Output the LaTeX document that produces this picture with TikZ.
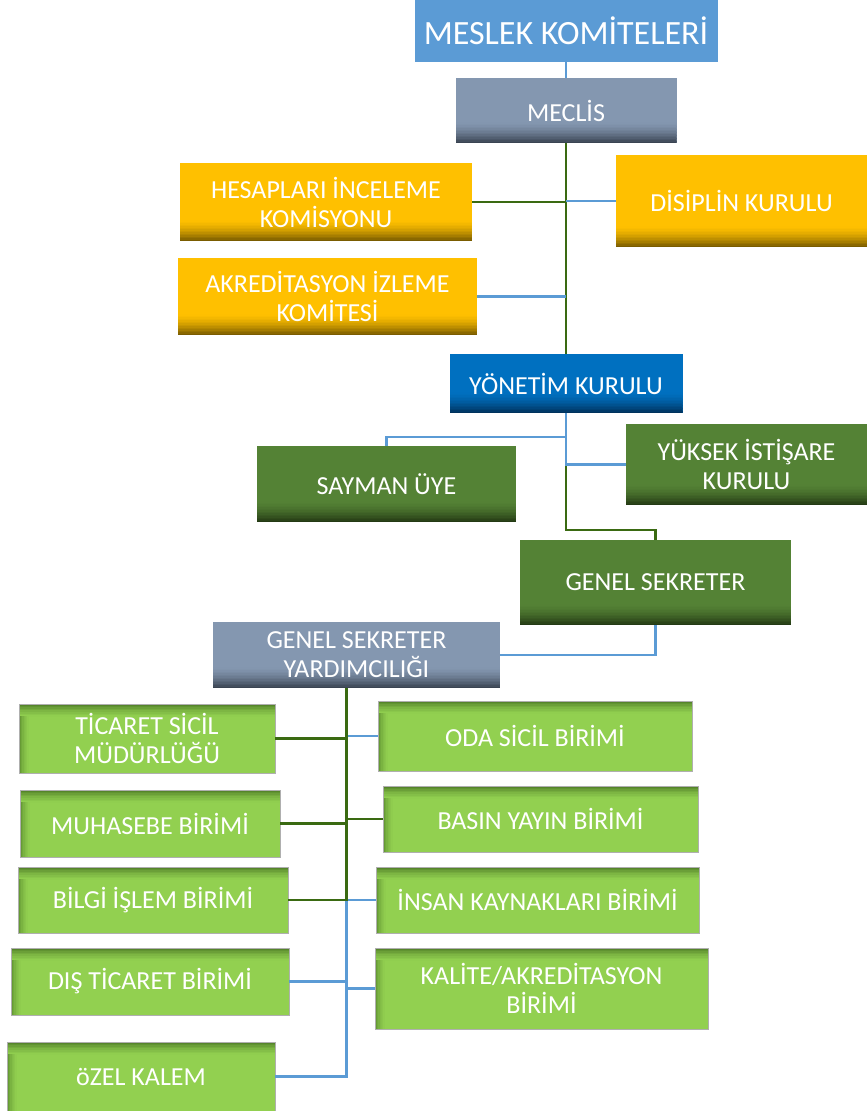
\documentclass[tikz,border=0pt]{standalone}
\usepackage{fontspec}
\setmainfont{Carlito}
\usepackage{tikz}
\definecolor{titleBlue}{RGB}{91,155,213}
\definecolor{lineBlue}{RGB}{91,155,213}
\definecolor{lineGreen}{RGB}{58,106,18}
\definecolor{slate}{RGB}{132,151,176}
\definecolor{slateDark}{RGB}{58,68,82}
\definecolor{gold}{RGB}{255,192,0}
\definecolor{goldDark}{RGB}{122,92,0}
\definecolor{navy}{RGB}{0,112,192}
\definecolor{navyDark}{RGB}{0,50,92}
\definecolor{leaf}{RGB}{84,130,53}
\definecolor{leafDark}{RGB}{36,58,20}
\definecolor{lime}{RGB}{146,208,80}
\definecolor{limeDark}{RGB}{78,124,38}
\definecolor{edgeGray}{RGB}{175,175,175}

\begin{document}
\begin{tikzpicture}[x = 1pt, y = -1pt,
    unit/.style 2 args = {inner sep = 0pt, outer sep = 0pt, fill = #1, text = white, align = center,
        font = \fontsize{26}{29}\selectfont,
        path picture = {
            \foreach \k [evaluate = \k as \p using {int(100*(1-\k/14)^1.6)}] in {0,...,13}
                \fill[#2!\p!#1] ([yshift = 1.5*\k pt]path picture bounding box.south west)
                    rectangle ([yshift = 1.5*\k pt + 1.7pt]path picture bounding box.south east);}},
    limeunit/.style = {inner sep = 0pt, outer sep = 0pt, fill = lime, text = white, align = center,
        font = \fontsize{26}{29}\selectfont, draw = edgeGray, line width = 0.8pt,
        path picture = {
            \foreach \k [evaluate = \k as \p using {int(90*(1-\k/8)^1.5)}] in {0,...,7}
                \fill[limeDark!\p!lime] ([yshift = -1.6*\k pt]path picture bounding box.north west)
                    rectangle ([yshift = -1.6*\k pt - 1.8pt]path picture bounding box.north east);
            \foreach \k [evaluate = \k as \p using {int(80*(1-\k/6)^1.5)}] in {0,...,5}
                \fill[limeDark!\p!lime, opacity = 0.8] ([xshift = 1.6*\k pt, yshift = -12pt]path picture bounding box.north west)
                    rectangle ([xshift = 1.6*\k pt + 1.8pt]path picture bounding box.south west);}},
    blueLink/.style = {draw = lineBlue, line width = 2.6pt},
    greenLink/.style = {draw = lineGreen, line width = 2.6pt}]
    \useasboundingbox (0,0) rectangle (867,1111);
    % Ust kademe
    \node[inner sep = 0pt, fill = titleBlue, text = white, font = \fontsize{34}{38}\selectfont,
        minimum width = 303pt, minimum height = 62pt] (meslek) at (566,31) {MESLEK KOMİTELERİ};
    \node[unit = {slate}{slateDark}, minimum width = 221pt, minimum height = 65pt] (meclis) at (566,110.5) {MECLİS};
    \node[unit = {gold}{goldDark}, minimum width = 292pt, minimum height = 78pt] (hesap) at (326,202) {HESAPLARI İNCELEME\\KOMİSYONU};
    \node[unit = {gold}{goldDark}, minimum width = 251pt, minimum height = 92pt] (disiplin) at (741.5,201) {DİSİPLİN KURULU};
    \node[unit = {gold}{goldDark}, minimum width = 299pt, minimum height = 77pt] (akred) at (327.5,296.5) {AKREDİTASYON İZLEME\\KOMİTESİ};
    % Yonetim
    \node[unit = {navy}{navyDark}, minimum width = 233pt, minimum height = 59pt] (yonetim) at (566,383.5) {YÖNETİM KURULU};
    \node[unit = {leaf}{leafDark}, minimum width = 259pt, minimum height = 76pt] (sayman) at (386.5,484) {SAYMAN ÜYE};
    \node[unit = {leaf}{leafDark}, minimum width = 241pt, minimum height = 81pt] (yuksek) at (746.5,464.5) {YÜKSEK İSTİŞARE\\KURULU};
    \node[unit = {leaf}{leafDark}, minimum width = 271pt, minimum height = 85pt] (gensek) at (655.5,582.5) {GENEL SEKRETER};
    \node[unit = {slate}{slateDark}, minimum width = 287pt, minimum height = 66pt] (gsy) at (356.5,655) {GENEL SEKRETER\\YARDIMCILIĞI};
    % Birimler
    \node[limeunit, minimum width = 256pt, minimum height = 69pt] (ticaret) at (147,738.5) {TİCARET SİCİL\\MÜDÜRLÜĞÜ};
    \node[limeunit, minimum width = 314pt, minimum height = 70pt] (oda) at (535,736) {ODA SİCİL BİRİMİ};
    \node[limeunit, minimum width = 260pt, minimum height = 67pt] (muhasebe) at (150,823.5) {MUHASEBE BİRİMİ};
    \node[limeunit, minimum width = 315pt, minimum height = 66pt] (basin) at (540.5,819) {BASIN YAYIN BİRİMİ};
    \node[limeunit, minimum width = 270pt, minimum height = 66pt] (bilgi) at (153,900) {BİLGİ İŞLEM BİRİMİ};
    \node[limeunit, minimum width = 323pt, minimum height = 66pt] (insan) at (537.5,900) {İNSAN KAYNAKLARI BİRİMİ};
    \node[limeunit, minimum width = 278pt, minimum height = 67pt] (dis) at (150,981.5) {DIŞ TİCARET BİRİMİ};
    \node[limeunit, minimum width = 333pt, minimum height = 81pt] (kalite) at (541.5,988.5) {KALİTE/AKREDİTASYON\\BİRİMİ};
    \node[limeunit, minimum width = 268pt, minimum height = 69pt] (ozel) at (141,1076.5) {öZEL KALEM};
    \coordinate (gsyFoot) at ([xshift = -10pt]gsy.south);
    % Baglantilar
    \draw[blueLink] (meslek.south) -- (meclis.north);
    \draw[greenLink] (meclis.south) -- (yonetim.north);
    \draw[greenLink] (hesap.east) -- (hesap.east -| meclis.south);
    \draw[blueLink] (disiplin.west) -- (disiplin.west -| meclis.south);
    \draw[blueLink] (akred.east) -- (akred.east -| meclis.south);
    \draw[greenLink] (yonetim.south) -- ++(0,117) -| (gensek.north);
    \draw[blueLink] (yonetim.south) -- ++(0,24) -| (sayman.north);
    \draw[blueLink] (yonetim.south) |- (yuksek.west);
    \draw[blueLink] (gensek.south) |- (gsy.east);
    \draw[blueLink] (gsyFoot) |- (ozel.east);
    \draw[blueLink] (gsyFoot) |- (dis.east);
    \draw[blueLink] (gsyFoot) |- (kalite.west);
    \draw[blueLink] (gsyFoot) |- (insan.west);
    \draw[blueLink] (gsyFoot) |- (oda.west);
    \draw[greenLink] (gsyFoot) |- (bilgi.east);
    \draw[greenLink] (gsyFoot) |- (ticaret.east);
    \draw[greenLink] (gsyFoot) |- (muhasebe.east);
    \draw[greenLink] (gsyFoot) |- (basin.west);
\end{tikzpicture}
\end{document}
